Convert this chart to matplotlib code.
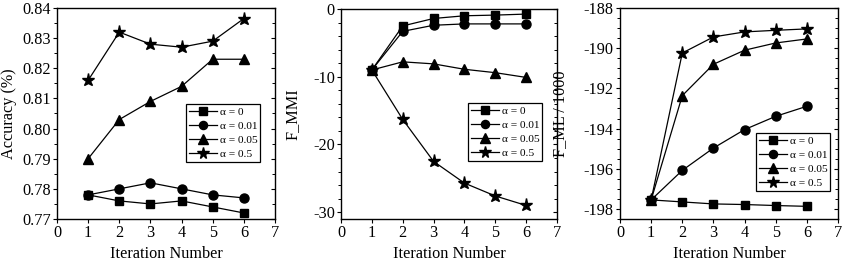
import matplotlib
matplotlib.use("Agg")
import matplotlib.pyplot as plt
from matplotlib.ticker import MultipleLocator, FuncFormatter
import matplotlib.lines as mlines

plt.rcParams['font.family'] = ['Liberation Serif', 'DejaVu Serif']

iterations = [1, 2, 3, 4, 5, 6]
labels = ["α = 0", "α = 0.01", "α = 0.05", "α = 0.5"]

acc_a0 = [0.778, 0.776, 0.775, 0.776, 0.774, 0.772]
acc_a001 = [0.778, 0.780, 0.782, 0.780, 0.778, 0.777]
acc_a005 = [0.790, 0.803, 0.809, 0.814, 0.823, 0.823]
acc_a05 = [0.816, 0.832, 0.828, 0.827, 0.829, 0.8365]

mmi_a0 = [-9.0, -2.5, -1.4, -1.0, -0.9, -0.75]
mmi_a001 = [-9.0, -3.3, -2.4, -2.2, -2.2, -2.2]
mmi_a005 = [-9.0, -7.8, -8.1, -8.9, -9.4, -10.1]
mmi_a05 = [-9.0, -16.3, -22.5, -25.7, -27.6, -29.0]

ml_a0 = [-197.55, -197.65, -197.75, -197.78, -197.83, -197.87]
ml_a001 = [-197.55, -196.08, -194.97, -194.05, -193.39, -192.89]
ml_a005 = [-197.55, -192.36, -190.80, -190.10, -189.74, -189.54]
ml_a05 = [-197.55, -190.24, -189.44, -189.19, -189.11, -189.04]

markers = ['s', 'o', '^', '*']
msizes = [6, 6.5, 7.5, 9.5]

fig = plt.figure(figsize=(8.52, 2.64), dpi=100)

W, H = 852, 264
def axes_px(l, r, t, b):
    return fig.add_axes([l / W, 1 - b / H, (r - l) / W, (b - t) / H])

ax1 = axes_px(57, 275, 8, 219)
ax2 = axes_px(341, 557, 9, 219)
ax3 = axes_px(620, 838, 8, 219)

FS = 11.7

panels = [
    (ax1, [acc_a0, acc_a001, acc_a005, acc_a05], (0.77, 0.84), 0.01, 0.005,
     "Accuracy (%)", (0.592, 0.545), -0.183, "{:.2f}"),
    (ax2, [mmi_a0, mmi_a001, mmi_a005, mmi_a05], (-31, 0), 10, 2,
     "F_MMI", (0.588, 0.552), -0.185, "{:.0f}"),
    (ax3, [ml_a0, ml_a001, ml_a005, ml_a05], (-198.5, -188), 2, 0.5,
     "F_ML / 1000", (0.624, 0.408), -0.239, "{:.0f}"),
]

for ax, series, ylim, major, minor, ylabel, leganchor, ylx, fmt in panels:
    for s, m, ms, lab in zip(series, markers, msizes, labels):
        ax.plot(iterations, s, color='black', lw=0.9, marker=m, ms=ms,
                markerfacecolor='black', markeredgecolor='black', label=lab,
                clip_on=False, zorder=3)
    ax.set_xlim(0, 7)
    ax.set_ylim(*ylim)
    ax.xaxis.set_major_locator(MultipleLocator(1))
    ax.yaxis.set_major_locator(MultipleLocator(major))
    ax.yaxis.set_minor_locator(MultipleLocator(minor))
    ax.yaxis.set_major_formatter(FuncFormatter(
        lambda v, p, f=fmt: f.format(0.0) if abs(v) < 1e-9 else f.format(v)))
    ax.tick_params(axis='both', which='major', labelsize=FS, direction='out',
                   length=3, width=0.8, color='black', pad=1.5)
    ax.tick_params(axis='y', which='minor', direction='out', length=2, width=0.7)
    ax.tick_params(axis='y', which='both', right=True, labelright=False)
    for t in ax.yaxis.get_major_ticks() + ax.yaxis.get_minor_ticks():
        t.tick2line.set_marker(mlines.TICKLEFT)
    for sp in ax.spines.values():
        sp.set_linewidth(1.0)
        sp.set_color('black')
    ax.set_ylabel(ylabel, fontsize=FS)
    ax.yaxis.set_label_coords(ylx, 0.5)
    ax.set_xlabel("Iteration Number", fontsize=FS)
    ax.xaxis.set_label_coords(0.5, -0.128)
    leg = ax.legend(loc='upper left', bbox_to_anchor=leganchor, borderaxespad=0,
                    fontsize=8.2, frameon=True, fancybox=False, framealpha=1,
                    edgecolor='black', handlelength=2.5, handletextpad=0.2,
                    borderpad=0.25, labelspacing=0.36, markerscale=0.9)
    leg.get_frame().set_linewidth(0.9)

fig.savefig("out.png", dpi=100)
